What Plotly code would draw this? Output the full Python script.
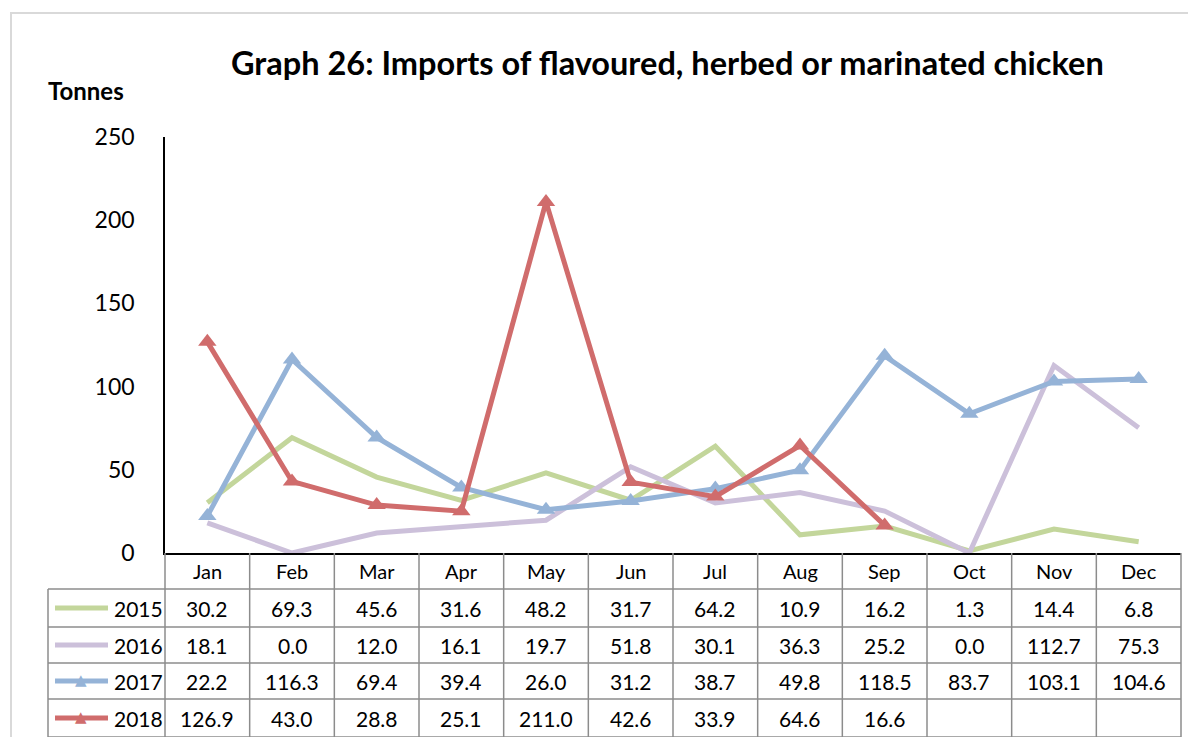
import plotly.graph_objects as go

months = ["Jan", "Feb", "Mar", "Apr", "May", "Jun", "Jul", "Aug", "Sep", "Oct", "Nov", "Dec"]
years = ["2015", "2016", "2017", "2018"]
v2015 = [30.2, 69.3, 45.6, 31.6, 48.2, 31.7, 64.2, 10.9, 16.2, 1.3, 14.4, 6.8]
v2016 = [18.1, 0.0, 12.0, 16.1, 19.7, 51.8, 30.1, 36.3, 25.2, 0.0, 112.7, 75.3]
v2017 = [22.2, 116.3, 69.4, 39.4, 26.0, 31.2, 38.7, 49.8, 118.5, 83.7, 103.1, 104.6]
v2018 = [126.9, 43.0, 28.8, 25.1, 211.0, 42.6, 33.9, 64.6, 16.6, None, None, None]
series = [v2015, v2016, v2017, v2018]
colors = ["#C3D69B", "#CCC0DA", "#95B3D7", "#D06C6C"]
markers = [False, False, True, True]
yticks = [0, 50, 100, 150, 200, 250]

OFF = 8  # browser body margin
W, H = 1196 - OFF, 737 - OFF
# target window-pixel positions
L, R, T, B = 165, 1181, 137, 553
FONT = "Lato"

def px(x):
    return (x - L) / (R - L)

def py(y):
    return (B - y) / (B - T)

fig = go.Figure()
for name, vals, col, mk in zip(years, series, colors, markers):
    fig.add_trace(go.Scatter(
        x=months, y=vals, name=name, mode="lines+markers" if mk else "lines",
        line=dict(color=col, width=5),
        marker=dict(symbol="triangle-up", size=16, color=col),
        connectgaps=False, showlegend=False, cliponaxis=False,
    ))

shapes = []
annotations = []
grid = "#8C8C8C"
colw = (R - L) / 12
rows_y = [553, 589, 627, 663, 699, 737]

# outer frame
shapes.append(dict(type="rect", xref="paper", yref="paper", x0=px(11), x1=px(1210), y0=py(13), y1=py(760),
                   line=dict(color="#D9D9D9", width=2), layer="below"))
# vertical lines of table
for i in range(13):
    x = L + i * colw
    shapes.append(dict(type="line", xref="paper", yref="paper", x0=px(x), x1=px(x), y0=py(553), y1=py(740),
                       line=dict(color=grid, width=1.5)))
shapes.append(dict(type="line", xref="paper", yref="paper", x0=px(48), x1=px(48), y0=py(589), y1=py(740),
                   line=dict(color=grid, width=1.5)))
# horizontal lines
for y in rows_y[1:]:
    shapes.append(dict(type="line", xref="paper", yref="paper", x0=px(48), x1=px(R), y0=py(y), y1=py(y),
                       line=dict(color=grid, width=1.5)))

# header month labels
for i, m in enumerate(months):
    annotations.append(dict(xref="paper", yref="paper", x=px(L + (i + 0.5) * colw), y=py((553 + 589) / 2),
                            text=m, showarrow=False, font=dict(family=FONT, size=20, color="black"),
                            xanchor="center", yanchor="middle"))
# data rows
for r, (name, vals, col, mk) in enumerate(zip(years, series, colors, markers)):
    yc = (rows_y[r + 1] + rows_y[r + 2]) / 2
    shapes.append(dict(type="line", xref="paper", yref="paper", x0=px(55), x1=px(108), y0=py(yc), y1=py(yc),
                       line=dict(color=col, width=5)))
    if mk:
        annotations.append(dict(xref="paper", yref="paper", x=px(81), y=py(yc - 1), text="▲", showarrow=False,
                                font=dict(family="DejaVu Sans", size=15, color=col), xanchor="center", yanchor="middle"))
    annotations.append(dict(xref="paper", yref="paper", x=px(112), y=py(yc), text=name, showarrow=False,
                            font=dict(family=FONT, size=21, color="black"), xanchor="left", yanchor="middle"))
    for i, v in enumerate(vals):
        if v is None:
            continue
        annotations.append(dict(xref="paper", yref="paper", x=px(L + (i + 0.5) * colw), y=py(yc),
                                text=f"{v:.1f}", showarrow=False, font=dict(family=FONT, size=21, color="black"),
                                xanchor="center", yanchor="middle"))

# title and axis title
annotations.append(dict(xref="paper", yref="paper", x=px(667), y=py(63),
                        text="<b>Graph 26: Imports of flavoured, herbed or marinated chicken</b>", showarrow=False,
                        font=dict(family=FONT, size=32.5, color="black"), xanchor="center", yanchor="middle"))
annotations.append(dict(xref="paper", yref="paper", x=px(46), y=py(90), text="<b>Tonnes</b>", showarrow=False,
                        font=dict(family=FONT, size=24, color="black"), xanchor="left", yanchor="middle"))

fig.update_layout(
    width=W, height=H, margin=dict(l=L - OFF, r=1196 - R, t=T - OFF, b=737 - B, pad=0),
    paper_bgcolor="white", plot_bgcolor="white",
    xaxis=dict(type="category", range=[-0.5, 11.5], showticklabels=False, showgrid=False, zeroline=False,
               showline=True, linecolor="black", linewidth=1.5, ticks=""),
    yaxis=dict(range=[0, 250], tickvals=yticks, showgrid=False, zeroline=False, showline=True,
               linecolor="black", linewidth=1.5, ticks="", ticklabelstandoff=24,
               tickfont=dict(family=FONT, size=23, color="black")),
    shapes=shapes, annotations=annotations,
)
fig.write_html("out.html")
